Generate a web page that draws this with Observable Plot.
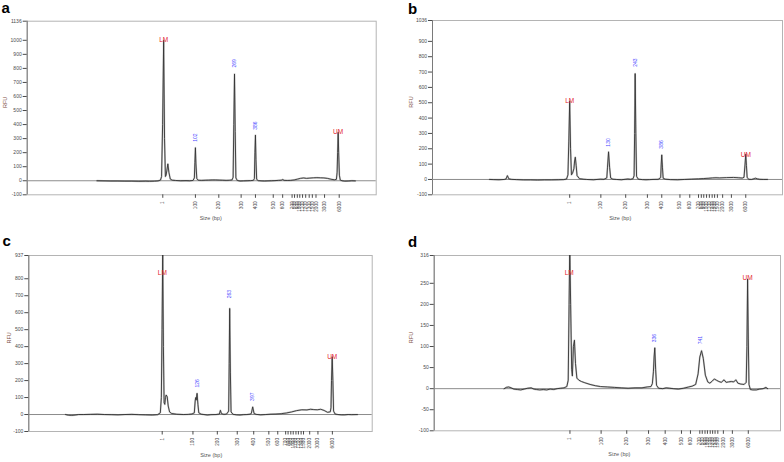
<!DOCTYPE html>
<html><head><meta charset="utf-8">
<script src="https://cdn.jsdelivr.net/npm/d3@7"></script>
<script src="https://cdn.jsdelivr.net/npm/@observablehq/plot@0.6"></script>
<style>
body{margin:0;background:#fff;}
#fig{position:relative;width:784px;height:462px;font-family:"Liberation Sans",Arial,sans-serif;overflow:hidden;}
.panel{position:absolute;width:392px;height:231px;}
.letter{position:absolute;font-weight:bold;font-size:15px;line-height:1;color:#000;}
</style></head><body><div id="fig"></div>
<script>
// ---- shared labels ----
const panelLetters = ["a", "b", "c", "d"];
const sizeLabels = ["1","100","200","300","400","500","600","700","800","900","1000","1100","1200","1300","1500","2000","3000","6000"];
const xTitle = "Size (bp)";
const yTitle = "RFU";

// ---- migration position (arbitrary units, 0-100 across run window) of each size tick ----
const sizeTicksA = [38.85,48.2,54.9,61.3,65.4,70.5,73.2,75.9,76.6,77.4,78.1,78.9,79.8,80.8,81.7,82.75,85.2,89.4];
const sizeTicksB = [39.2,48.1,55.2,61.4,65.5,70.7,73.5,76.0,76.8,77.5,78.3,79.1,79.9,80.6,81.4,82.9,85.4,89.5];
const sizeTicksC = [38.85,47.8,54.9,60.7,65.5,69.9,72.5,74.8,75.5,76.3,77.0,77.8,78.5,79.3,80.0,81.8,84.2,88.4];
const sizeTicksD = [39.2,48.2,55.6,61.9,66.7,71.4,74.0,76.7,77.4,78.2,78.9,79.7,80.4,81.1,81.9,83.5,86.1,90.7];

// ---- RFU axis ----
const yTicksA = [-100,0,100,200,300,400,500,600,700,800,900,1000,1136];
const yTicksB = [-100,0,100,200,300,400,500,600,700,800,900,1036];
const yTicksC = [-100,0,100,200,300,400,500,600,700,800,937];
const yTicksD = [-100,-50,0,50,100,150,200,250,316];

// ---- traces: [migration, RFU] ----
const traceA = [[20,0],[22,-1],[24,-2],[26,-2],[28,-3],[30,-3],[32,-4],[34,-3],[35,-4],[36.5,-3],[37.5,-1],[38.2,5],[38.5,30],[38.8,400],[39.1,1000],[39.35,300],[39.6,30],[39.8,40],[40.0,70],[40.3,120],[40.6,60],[41.0,12],[41.6,4],[42.5,2],[44,0],[45.5,1],[46.5,0],[47.5,2],[47.9,20],[48.05,130],[48.2,235],[48.35,120],[48.6,15],[49,4],[50,3],[51,4],[52,5],[53,6],[54,6],[55,5],[56,4],[57,3],[58,4],[58.7,6],[59.0,25],[59.2,400],[59.4,760],[59.6,350],[59.8,20],[60.2,2],[61,-2],[62,-1],[63,0],[64,1],[64.8,3],[65.1,15],[65.25,200],[65.4,325],[65.55,150],[65.75,10],[66.2,1],[67,-1],[68,-2],[69,-1],[70,0],[71,1],[72,3],[72.8,4],[73.2,9],[73.6,3],[74.5,2],[75.5,3],[76.5,6],[77.5,12],[78.3,17],[79.2,20],[80,17],[81,19],[82,21],[83,22],[84,21],[85,20],[86,17],[87,11],[88,7],[88.6,10],[88.8,60],[88.95,200],[89.1,345],[89.25,200],[89.45,40],[89.7,5],[90.2,0],[91,-3],[92,-2],[93,0],[94,-1]];
const traceB = [[16.3,0],[17.5,-1],[19,-2],[20.5,0],[21.0,3],[21.4,25],[21.8,4],[22.5,1],[24,-1],[26,-3],[28,-3],[30,-4],[32,-3],[34,-3],[36,-2],[37.5,-1],[38.3,3],[38.7,30],[38.95,250],[39.2,510],[39.45,200],[39.7,30],[40.0,40],[40.4,70],[40.6,120],[40.8,145],[41.05,90],[41.3,25],[42,5],[43,2],[44,0],[45,-1],[46,-2],[47,0],[48,2],[49,1],[49.8,10],[50.0,80],[50.3,180],[50.6,80],[50.9,10],[51.5,2],[52.5,0],[54,-2],[55,1],[55.8,3],[56.6,1],[57.3,5],[57.6,25],[57.75,300],[57.9,690],[58.1,300],[58.3,20],[58.8,2],[60,-1],[61,-2],[62,-1],[63,0],[64.5,1],[65.2,12],[65.35,100],[65.5,160],[65.7,80],[65.9,8],[66.5,2],[68,-1],[70,-2],[72,0],[74,2],[76,4],[77.5,6],[79,8],[80,10],[81,11],[82,10],[84,12],[86,13],[87.5,11],[88.5,9],[89.0,14],[89.3,100],[89.5,165],[89.7,90],[89.9,12],[90.4,1],[91.2,0],[91.9,5],[92.3,8],[92.8,4],[93.5,1],[94.5,0],[95.7,0]];
const traceC = [[10.7,0],[11.5,-4],[12.5,-5],[13.5,-3],[14.5,0],[16,0],[18,1],[20,2],[22,0],[24,-1],[26,-2],[28,0],[30,1],[32,-1],[34,-2],[36,-3],[37.5,-1],[38.3,10],[38.6,100],[38.8,500],[39.0,960],[39.2,400],[39.4,70],[39.6,60],[39.8,100],[40.0,115],[40.3,105],[40.6,50],[41,15],[41.6,6],[43,2],[45,0],[46.5,1],[47.5,3],[48.2,10],[48.45,80],[48.6,100],[48.75,85],[49.0,125],[49.25,60],[49.5,10],[50.2,2],[51,0],[52,-3],[53,-1],[54.5,0],[55.5,3],[55.8,25],[56.1,5],[56.8,1],[57.6,3],[58.2,20],[58.35,300],[58.5,625],[58.7,250],[58.9,15],[59.5,1],[60.5,-2],[61.5,-3],[62.5,-1],[63.5,0],[64.4,2],[64.8,6],[65.2,45],[65.6,6],[66.2,1],[67.5,-2],[69,0],[70.5,2],[72,3],[73.5,5],[75,9],[76.5,15],[78,23],[79.5,28],[81,27],[82,31],[83,29],[84,28],[85,31],[86,24],[87,13],[87.8,16],[88.0,40],[88.15,200],[88.35,340],[88.55,200],[88.75,20],[89.2,3],[90,0],[91,-2],[92,-2],[93,0],[94,-1],[95.7,0]];
const traceD = [[20.2,0],[20.8,3],[21.5,4],[22.2,2],[23,-1],[24,-2],[25,-3],[26,-1],[27,1],[28,2],[28.8,-1],[29.5,-2],[30.5,-3],[31.5,-2],[32.5,-3],[33.5,-1],[34.5,-2],[35.5,0],[36.5,1],[37.5,2],[38.3,5],[38.7,20],[38.95,200],[39.15,340],[39.4,200],[39.7,45],[39.9,30],[40.2,100],[40.5,115],[40.8,60],[41.2,25],[41.8,20],[42.5,17],[43.5,14],[45,10],[46.5,7],[48,5],[50,4],[52,3],[54,2],[56,1],[58,2],[60,2],[61.5,4],[62.6,5],[63.0,12],[63.3,40],[63.5,75],[63.7,97],[63.95,45],[64.2,8],[64.8,1],[66,0],[67,2],[68,1],[69,0],[70.5,-1],[72,1],[73.5,4],[74.5,6],[75.5,10],[76.2,35],[76.7,75],[77.2,90],[77.7,72],[78.3,32],[79,16],[79.6,13],[80.3,18],[80.9,23],[81.5,20],[82.2,17],[82.9,15],[83.7,21],[84.3,15],[85,16],[85.8,17],[86.5,16],[87.1,21],[87.7,13],[88.5,11],[89.5,10],[90.1,15],[90.3,100],[90.5,260],[90.7,120],[90.9,10],[91.3,-2],[92,-3],[93,-3],[94,-1],[95,0],[95.8,3],[96.3,0]];

// ---- peak annotations: [migration, RFU, text] ----
const markerLabelsA = [[39.1,1000,"LM"],[89.1,345,"UM"]];
const peakLabelsA = [[48.2,307,"102"],[59.4,836,"269"],[65.4,393,"386"]];
const markerLabelsB = [[39.2,514,"LM"],[89.5,158,"UM"]];
const peakLabelsB = [[50.3,241,"130"],[57.9,761,"243"],[65.5,228,"386"]];
const markerLabelsC = [[38.9,832,"LM"],[88.35,338,"UM"]];
const peakLabelsC = [[49.0,184,"126"],[58.5,709,"263"],[65.2,105,"397"]];
const markerLabelsD = [[39.0,275,"LM"],[90.5,262,"UM"]];
const peakLabelsD = [[63.7,120,"336"],[76.9,115,"741"]];

// ---- layout ----
const panels = [
  {letter: panelLetters[0], left: 0, top: 0, lx: 1.5, ly: 0, m: [20.7, 16.3, 36.7, 26.7], y: [-100, 1136], yt: yTicksA, tr: traceA, xt: sizeTicksA, mk: markerLabelsA, pk: peakLabelsA, rfuDx: -21.5, sizeDx: 9},
  {letter: panelLetters[1], left: 392, top: 0, lx: 408, ly: 0.5, m: [20, 2, 36.7, 40], y: [-100, 1036], yt: yTicksB, tr: traceB, xt: sizeTicksB, mk: markerLabelsB, pk: peakLabelsB, rfuDx: -21, sizeDx: 12.7},
  {letter: panelLetters[2], left: 0, top: 231, lx: 2.5, ly: 233, m: [24, 20.3, 31, 28.3], y: [-100, 937], yt: yTicksC, tr: traceC, xt: sizeTicksC, mk: markerLabelsC, pk: peakLabelsC, rfuDx: -20, sizeDx: 10.7},
  {letter: panelLetters[3], left: 392, top: 231, lx: 408, ly: 234, m: [24, 4, 31.7, 41.7], y: [-100, 316], yt: yTicksD, tr: traceD, xt: sizeTicksD, mk: markerLabelsD, pk: peakLabelsD, rfuDx: -23, sizeDx: 12}
];

const fig = document.getElementById("fig");
for (const p of panels) {
  const labelMap = new Map(p.xt.map((v, i) => [v, sizeLabels[i]]));
  const chart = Plot.plot({
    width: 392, height: 231,
    marginTop: p.m[0], marginRight: p.m[1], marginBottom: p.m[2], marginLeft: p.m[3],
    style: {fontFamily: "'Liberation Sans', Arial, sans-serif", color: "#4a4a4a", background: "transparent", overflow: "visible"},
    x: {domain: [0, 100], axis: null},
    y: {domain: p.y, axis: null},
    marks: [
      Plot.frame({stroke: "#b4b4b4", strokeWidth: 1}),
      Plot.ruleX([0], {stroke: "#7a7a7a", strokeWidth: 1}),
      Plot.ruleY([0], {stroke: "#8c8c8c", strokeWidth: 1}),
      Plot.line(p.tr, {x: d => d[0], y: d => d[1], stroke: "#6a6a6a", strokeWidth: 1.8, strokeOpacity: 0.35, clip: true}),
      Plot.line(p.tr, {x: d => d[0], y: d => d[1], stroke: "#333", strokeWidth: 0.9, clip: true}),
      Plot.axisY({ticks: p.yt, tickFormat: d => String(d), tickSize: 4, tickPadding: 1.5, fontSize: 5, label: null}),
      Plot.axisX({ticks: p.xt, tickFormat: d => labelMap.get(d), tickRotate: -90, tickSize: 3.5, tickPadding: 3, fontSize: 4.7, label: null}),
      Plot.text([yTitle], {text: d => d, frameAnchor: "left", dx: p.rfuDx, rotate: -90, fontSize: 5.5, fill: "#7d4c44"}),
      Plot.text([xTitle], {text: d => d, frameAnchor: "bottom", dx: p.sizeDx, dy: 25, fontSize: 5.5, fill: "#555"}),
      Plot.text(p.pk, {x: d => d[0], y: d => d[1], text: d => d[2], rotate: -90, fontSize: 5, fill: "#4b4bff"}),
      Plot.text(p.mk, {x: d => d[0], y: d => d[1], text: d => d[2], fontSize: 6.5, fill: "#e3242b"})
    ]
  });
  const holder = document.createElement("div");
  holder.className = "panel";
  holder.style.left = p.left + "px";
  holder.style.top = p.top + "px";
  holder.appendChild(chart);
  fig.appendChild(holder);
  const lt = document.createElement("div");
  lt.className = "letter";
  lt.style.left = p.lx + "px";
  lt.style.top = p.ly + "px";
  lt.textContent = p.letter;
  fig.appendChild(lt);
}
</script>
</body></html>
